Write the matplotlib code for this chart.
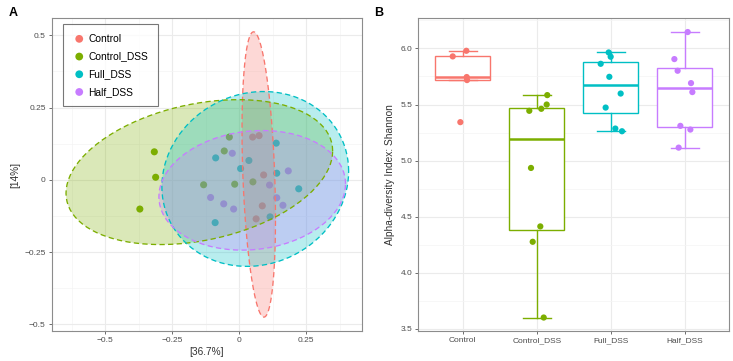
import numpy as np
import matplotlib
matplotlib.use("Agg")
import matplotlib.pyplot as plt
from matplotlib.ticker import MultipleLocator, FixedLocator

plt.rcParams['font.family'] = ['Liberation Sans', 'DejaVu Sans']

# --- data ---
groups = ["Control", "Control_DSS", "Full_DSS", "Half_DSS"]
colors = ["#F8766D", "#7CAE00", "#00BFC4", "#C77CFF"]

# PCoA coordinates (axis 1 / axis 2)
pc1_control = [0.050, 0.074, 0.091, 0.086, 0.063]
pc2_control = [0.148, 0.153, 0.017, -0.090, -0.135]
pc1_control_dss = [-0.317, -0.312, -0.371, -0.037, -0.056, -0.133, -0.017, 0.051]
pc2_control_dss = [0.097, 0.009, -0.101, 0.148, 0.100, -0.017, -0.015, -0.007]
pc1_full_dss = [0.138, -0.088, 0.036, 0.005, 0.140, 0.222, 0.115, -0.090]
pc2_full_dss = [0.127, 0.076, 0.067, 0.039, 0.023, -0.031, -0.128, -0.148]
pc1_half_dss = [-0.026, 0.183, 0.113, -0.107, -0.058, -0.021, 0.140, 0.163]
pc2_half_dss = [0.092, 0.031, -0.018, -0.061, -0.083, -0.101, -0.062, -0.088]

# Shannon index per sample
shannon_control = [5.929, 5.979, 5.745, 5.718, 5.343]
shannon_control_dss = [5.584, 5.500, 5.462, 5.444, 4.935, 4.414, 4.277, 3.602]
shannon_full_dss = [5.964, 5.926, 5.863, 5.747, 5.598, 5.473, 5.286, 5.262]
shannon_half_dss = [6.146, 5.905, 5.801, 5.691, 5.611, 5.310, 5.277, 5.116]

# horizontal jitter of the points in panel B
jitter_control = [-0.135, 0.049, 0.054, 0.058, -0.032]
jitter_control_dss = [0.143, 0.135, 0.062, -0.100, -0.077, 0.049, -0.054, 0.095]
jitter_full_dss = [-0.027, 0.000, -0.135, -0.018, 0.135, -0.068, 0.063, 0.153]
jitter_half_dss = [0.041, -0.139, -0.095, 0.086, 0.104, -0.058, 0.077, -0.081]

pc1 = [pc1_control, pc1_control_dss, pc1_full_dss, pc1_half_dss]
pc2 = [pc2_control, pc2_control_dss, pc2_full_dss, pc2_half_dss]
shannon = [shannon_control, shannon_control_dss, shannon_full_dss, shannon_half_dss]
jitter = [jitter_control, jitter_control_dss, jitter_full_dss, jitter_half_dss]


def conf_ellipse(x, y, level=0.95, segments=101):
    # same recipe as ggplot2::stat_ellipse (F-based radius)
    x = np.asarray(x); y = np.asarray(y)
    n = len(x)
    cov = np.cov(np.vstack([x, y]))
    d2 = n - 1
    fq = d2 / 2 * ((1 - level) ** (-2 / d2) - 1)  # qf(level, 2, d2)
    radius = np.sqrt(2 * fq)
    t = np.linspace(0, 2 * np.pi, segments)
    circle = np.column_stack([np.cos(t), np.sin(t)])
    L = np.linalg.cholesky(cov)
    pts = radius * circle @ L.T + np.array([x.mean(), y.mean()])
    return pts[:, 0], pts[:, 1]


def style_axes(ax):
    ax.set_facecolor("white")
    for s in ax.spines.values():
        s.set_color("#8C8C8C")
        s.set_linewidth(0.8)
    ax.grid(True, which="major", color="#EBEBEB", linewidth=0.8, zorder=0)
    ax.grid(True, which="minor", color="#F4F4F4", linewidth=0.5, zorder=0)
    ax.set_axisbelow(True)
    ax.tick_params(which="major", length=2.5, width=0.6, color="#555555",
                   labelsize=6, labelcolor="#4D4D4D", pad=2)
    ax.tick_params(which="minor", length=0)


fig = plt.figure(figsize=(7.33, 3.61), dpi=100)

# --- panel A: PCoA ---
axA = fig.add_axes([0.0709, 0.0831, 0.4229, 0.867])
style_axes(axA)
for i, g in enumerate(groups):
    axA.scatter(pc1[i], pc2[i], s=26, color=colors[i], edgecolor="none",
                zorder=2, label=g)
for i, g in enumerate(groups):
    ex, ey = conf_ellipse(pc1[i], pc2[i])
    axA.fill(ex, ey, color=colors[i], alpha=0.28, linewidth=0, zorder=3)
    axA.plot(ex, ey, color=colors[i], linewidth=0.95,
             linestyle=(0, (4, 2.5)), zorder=4)

axA.set_xlim(-0.699, 0.458)
axA.set_ylim(-0.523, 0.56)
axA.xaxis.set_major_locator(FixedLocator([-0.5, -0.25, 0, 0.25]))
axA.xaxis.set_minor_locator(MultipleLocator(0.125))
axA.yaxis.set_major_locator(FixedLocator([-0.5, -0.25, 0, 0.25, 0.5]))
axA.yaxis.set_minor_locator(MultipleLocator(0.125))
axA.set_xticklabels(["\u22120.5", "\u22120.25", "0", "0.25"])
axA.set_yticklabels(["\u22120.5", "\u22120.25", "0", "0.25", "0.5"])
axA.set_xlabel("[36.7%]", fontsize=7.3, color="#333333", labelpad=2)
axA.set_ylabel("[14%]", fontsize=7.3, color="#333333", labelpad=3)

leg = axA.legend(loc="upper left", bbox_to_anchor=(0.02, 0.998), fontsize=7.4,
                 frameon=True, fancybox=False, edgecolor="#555555",
                 handletextpad=0.3, borderpad=0.95, labelspacing=0.75,
                 handlelength=1.2, markerscale=1.1)
leg.get_frame().set_linewidth(0.8)

# --- panel B: Shannon boxplots ---
axB = fig.add_axes([0.5707, 0.0831, 0.4239, 0.867])
style_axes(axB)
positions = np.arange(1, len(groups) + 1)
bp = axB.boxplot(shannon, positions=positions, widths=0.75, showfliers=False,
                 capwidths=0.375, patch_artist=True, zorder=2)
for i in range(len(groups)):
    c = colors[i]
    bp["boxes"][i].set(facecolor="white", edgecolor=c, linewidth=1.0)
    bp["medians"][i].set(color=c, linewidth=1.8)
    for w in bp["whiskers"][2 * i:2 * i + 2]:
        w.set(color=c, linewidth=1.0)
    for cap in bp["caps"][2 * i:2 * i + 2]:
        cap.set(color=c, linewidth=1.0)
for i in range(len(groups)):
    xs = positions[i] + np.asarray(jitter[i])
    axB.scatter(xs, shannon[i], s=20, color=colors[i], edgecolor="none", zorder=3)

axB.set_xlim(0.4, 4.6)
axB.set_ylim(3.482, 6.271)
axB.set_xticks(positions)
axB.set_xticklabels(groups)
axB.xaxis.set_minor_locator(FixedLocator([]))
axB.yaxis.set_major_locator(FixedLocator([3.5, 4.0, 4.5, 5.0, 5.5, 6.0]))
axB.yaxis.set_minor_locator(FixedLocator([3.75, 4.25, 4.75, 5.25, 5.75, 6.25]))
axB.set_yticklabels(["3.5", "4.0", "4.5", "5.0", "5.5", "6.0"])
axB.set_ylabel("Alpha-diversity Index: Shannon", fontsize=7.3, color="#333333",
               labelpad=4)

fig.text(0.012, 0.965, "A", fontsize=9, fontweight="bold", va="center")
fig.text(0.511, 0.965, "B", fontsize=9, fontweight="bold", va="center")

fig.savefig("out.png", dpi=100)
